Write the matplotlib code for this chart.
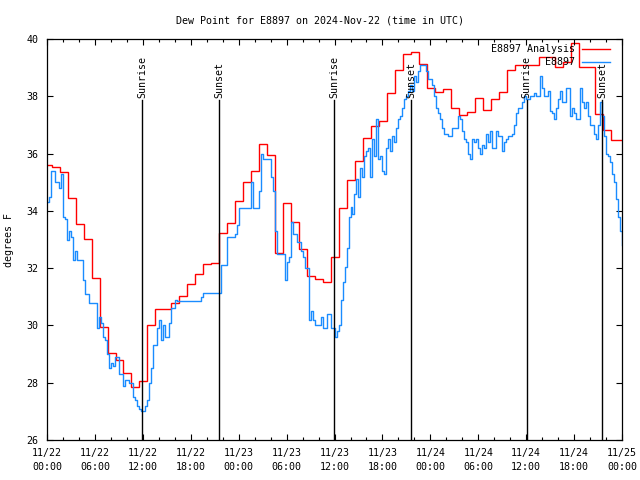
import matplotlib.pyplot as plt
import numpy as np
from matplotlib.ticker import MultipleLocator

plt.rcParams["font.family"] = ["DejaVu Sans Mono"]
plt.rcParams["font.size"] = 7.2

title_str = "Dew Point for E8897 on 2024-Nov-22 (time in UTC)"

# analysis, one value per hour (step edges offset from the hour)
red_offset = 0.58
analysis = [
    35.60, 35.53, 35.36, 34.44, 33.54, 33.01, 31.67, 29.93, 29.03, 28.79,
    28.33, 27.84, 28.05, 30.00, 30.56, 30.56, 30.77, 31.03, 31.43, 31.78,
    32.14, 32.19, 33.22, 33.56, 34.34, 35.02, 35.40, 36.32, 35.95, 32.54,
    34.26, 33.60, 32.67, 31.72, 31.62, 31.52, 32.38, 34.09, 35.08, 35.74,
    36.53, 36.96, 37.15, 38.13, 38.92, 39.48, 39.56, 39.13, 38.30, 38.16,
    38.24, 37.58, 37.35, 37.46, 37.93, 37.52, 37.89, 38.16, 38.92, 39.09,
    39.09, 39.09, 39.36, 39.36, 39.03, 39.20, 39.87, 39.03, 39.03, 37.38,
    36.82, 36.47, 36.47,
]

# observations every 15 minutes
obs = [
    34.3, 34.5, 35.4, 35.4,  35.0, 35.0, 34.8, 35.3,
    33.8, 33.7, 33.0, 33.3,  33.1, 32.3, 32.6, 32.3,
    32.3, 32.3, 31.6, 31.1,  31.1, 30.8, 30.8, 30.8,
    30.8, 29.9, 30.3, 30.1,  29.6, 29.5, 29.0, 28.5,
    28.7, 28.6, 28.9, 28.9,  28.3, 28.3, 27.9, 28.1,
    28.1, 28.0, 28.0, 27.5,  27.4, 27.2, 27.1, 27.0,
    27.0, 27.2, 27.4, 28.0,  28.5, 29.3, 29.3, 29.9,
    30.2, 29.5, 30.0, 29.6,  29.6, 30.1, 30.6, 30.6,
    30.9, 30.86, 30.86, 30.86,  30.86, 30.86, 30.86, 30.86,
    30.86, 30.86, 30.86, 30.86,  30.86, 31.0, 31.15, 31.15,
    31.15, 31.15, 31.15, 31.15,  31.15, 31.15, 31.15, 32.1,
    32.1, 32.1, 33.1, 33.1,  33.1, 33.1, 33.2, 33.5,
    34.1, 34.1, 34.1, 34.1,  34.1, 34.1, 35.0, 34.1,
    34.1, 34.1, 34.7, 36.0,  35.8, 35.8, 35.8, 35.8,
    35.2, 34.7, 33.3, 32.5,  32.5, 32.5, 32.5, 31.6,
    32.2, 32.4, 33.6, 33.2,  33.2, 32.9, 32.9, 32.6,
    32.4, 32.0, 32.0, 30.2,  30.5, 30.2, 30.0, 30.0,
    30.0, 30.3, 29.9, 29.9,  30.4, 30.4, 29.9, 29.9,
    29.6, 29.8, 30.0, 30.9,  31.5, 32.05, 32.7, 33.8,
    34.15, 33.9, 34.6, 35.1,  34.5, 35.5, 35.2, 35.9,
    36.1, 36.2, 35.2, 36.5,  35.9, 37.2, 35.8, 35.9,
    35.4, 35.3, 36.2, 36.5,  36.1, 36.6, 36.4, 36.9,
    37.2, 37.3, 37.6, 37.9,  38.0, 38.2, 38.4, 38.2,
    38.7, 38.5, 38.9, 39.1,  39.1, 39.1, 38.9, 38.6,
    38.6, 38.4, 38.0, 37.6,  37.4, 37.2, 36.9, 36.7,
    36.7, 36.6, 36.6, 36.9,  36.9, 36.9, 37.3, 37.2,
    36.8, 36.5, 36.4, 36.0,  35.8, 36.5, 36.4, 36.5,
    36.2, 36.0, 36.3, 36.2,  36.7, 36.4, 36.8, 36.2,
    36.2, 36.8, 36.6, 36.6,  36.1, 36.4, 36.5, 36.6,
    36.6, 36.7, 37.0, 37.4,  37.6, 37.6, 37.8, 38.0,
    37.9, 37.9, 38.0, 38.0,  38.1, 38.0, 38.0, 38.7,
    38.3, 38.0, 38.0, 38.2,  37.5, 37.4, 37.2, 37.6,
    37.9, 38.2, 37.8, 37.8,  38.3, 38.3, 37.3, 37.6,
    37.4, 37.2, 37.2, 38.3,  37.8, 37.6, 37.8, 37.3,
    37.0, 37.0, 36.7, 36.5,  37.0, 37.8, 37.3, 36.6,
    36.0, 35.9, 35.7, 35.3,  35.0, 34.4, 33.8, 33.3,
    32.8,
]

# sun events, hours after 11/22 00:00 UTC
sun_hours = [11.93, 21.56, 35.92, 45.59, 60.04, 69.50]
sun_names = ["Sunrise", "Sunset", "Sunrise", "Sunset", "Sunrise", "Sunset"]

tick_labels = [
    "11/22\n00:00", "11/22\n06:00", "11/22\n12:00", "11/22\n18:00",
    "11/23\n00:00", "11/23\n06:00", "11/23\n12:00", "11/23\n18:00",
    "11/24\n00:00", "11/24\n06:00", "11/24\n12:00", "11/24\n18:00",
    "11/25\n00:00",
]

fig = plt.figure(figsize=(6.4, 4.8), dpi=100)
ax = fig.add_axes([0.0734, 0.0833, 0.8986, 0.8354])

# analysis steps
n_red = len(analysis)
edges = np.concatenate([[0.0], np.arange(n_red - 1) + red_offset, [n_red - 1]])
ax.stairs(analysis, edges, baseline=None, color="#ff0000", lw=1.0)

# observations
obs_t = np.arange(len(obs)) * 0.25
ax.plot(obs_t, obs, color="#1a8cff", lw=1.0, drawstyle="steps-post")

# sunrise / sunset markers
for h, name in zip(sun_hours, sun_names):
    ax.plot([h, h], [26, 37.87], color="black", lw=1.0)
    ax.text(h, 37.95, name, rotation=90, ha="center", va="bottom")

ax.set_xlim(0, 72)
ax.set_ylim(26, 40)
ax.set_xticks(np.arange(0, 73, 6))
ax.set_xticklabels(tick_labels, linespacing=1.5)
ax.xaxis.set_minor_locator(MultipleLocator(2))
ax.set_yticks(np.arange(26, 41, 2))
ax.tick_params(which="both", direction="in", top=True, right=True, width=0.8)
ax.tick_params(which="major", length=4.5)
ax.tick_params(which="minor", length=2.2)
ax.tick_params(axis="x", pad=6)
ax.tick_params(axis="y", pad=6)
for sp in ax.spines.values():
    sp.set_linewidth(0.9)

ax.set_ylabel("degrees F", labelpad=9)
fig.text(0.5, 0.958, title_str, ha="center", va="center")

# legend, gnuplot style (text right aligned, sample after it)
leg_rows = [("E8897 Analysis", "#ff0000", 0.975), ("E8897", "#1a8cff", 0.943)]
for lab, col, yy in leg_rows:
    ax.text(0.918, yy, lab, transform=ax.transAxes, ha="right", va="center")
    ax.plot([0.930, 0.979], [yy, yy], transform=ax.transAxes, color=col, lw=1.0)

plt.savefig("out.png", dpi=100)
